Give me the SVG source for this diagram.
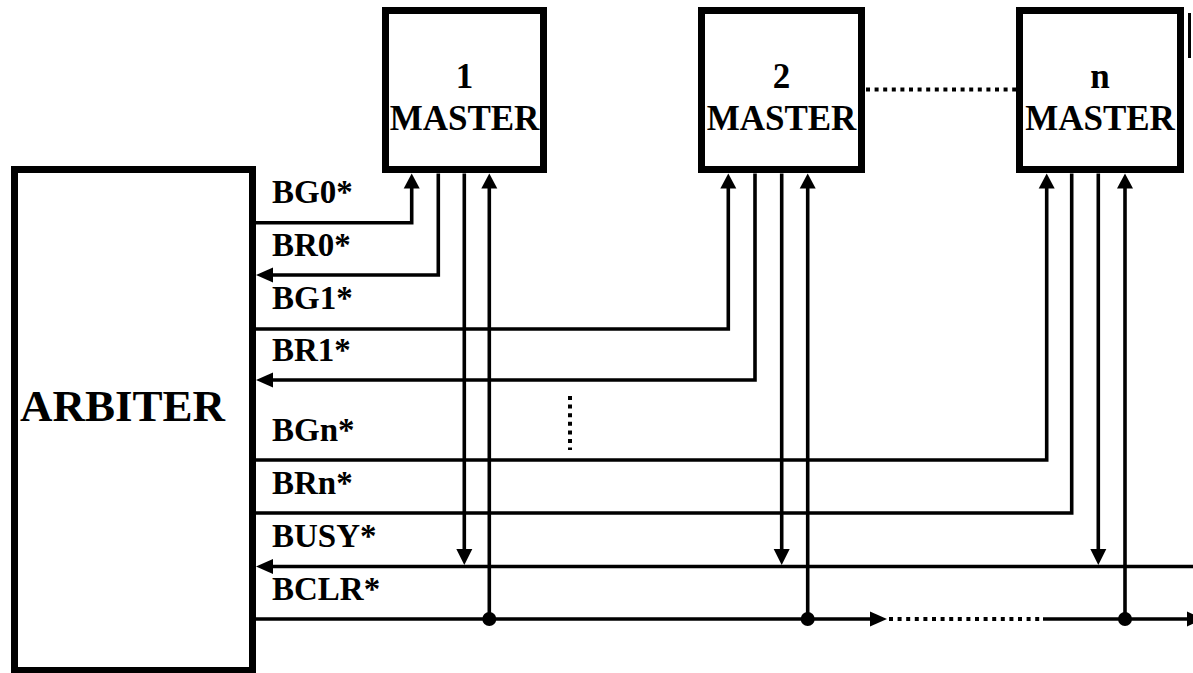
<svg xmlns="http://www.w3.org/2000/svg" width="1193" height="673" viewBox="0 0 1193 673">
<style>
.box{fill:#fff;stroke:#000;stroke-width:7}
.ln{fill:none;stroke:#000;stroke-width:3.6}
.dot{fill:none;stroke:#000;stroke-width:4;stroke-dasharray:4 4.6}
.t{font-family:"Liberation Serif","Times New Roman",serif;font-weight:bold;fill:#000}
.m{font-size:35px;text-anchor:middle}
.lab{font-size:33px}
</style>
<defs>
<polygon id="aUp" points="0,0 -8,15 8,15" fill="#000"/>
<polygon id="aDown" points="0,0 -8,-16 8,-16" fill="#000"/>
<polygon id="aLeft" points="0,0 17,-7.5 17,7.5" fill="#000"/>
<polygon id="aRight" points="0,0 -17,-7.5 -17,7.5" fill="#000"/>
</defs>
<rect width="1193" height="673" fill="#fff"/>
<g id="arbiter">
<rect class="box" x="14.5" y="169.5" width="238" height="501"/>
<text class="t" x="20" y="421" font-size="45">ARBITER</text>
</g>
<g id="master1">
<rect class="box" x="385.5" y="10.5" width="158" height="159"/>
<text class="t m" x="464.5" y="88">1</text>
<text class="t m" x="464.5" y="130">MASTER</text>
</g>
<g id="master2">
<rect class="box" x="701.5" y="10.5" width="160" height="159"/>
<text class="t m" x="781.5" y="88">2</text>
<text class="t m" x="781.5" y="130">MASTER</text>
</g>
<g id="mastern">
<rect class="box" x="1019.5" y="10.5" width="161" height="159"/>
<text class="t m" x="1100" y="88">n</text>
<text class="t m" x="1100" y="130">MASTER</text>
</g>
<g id="labels">
<text class="t lab" x="272" y="203">BG0*</text>
<text class="t lab" x="272" y="256">BR0*</text>
<text class="t lab" x="272" y="309">BG1*</text>
<text class="t lab" x="272" y="361">BR1*</text>
<text class="t lab" x="272" y="441">BGn*</text>
<text class="t lab" x="272" y="494">BRn*</text>
<text class="t lab" x="272" y="547">BUSY*</text>
<text class="t lab" x="272" y="600">BCLR*</text>
</g>
<g id="connectors">
<line x1="1189.5" y1="13" x2="1189.5" y2="58" stroke="#000" stroke-width="3"/>
<line class="dot" x1="866" y1="89.5" x2="1016" y2="89.5"/>
<line class="dot" x1="570" y1="396" x2="570" y2="450"/>
<path class="ln" d="M256 222.7H411.7V180"/>
<use href="#aUp" x="411.7" y="173.5"/>
<path class="ln" d="M438.3 173.5V275H262"/>
<use href="#aLeft" x="256" y="275"/>
<path class="ln" d="M464.3 173.5V555"/>
<use href="#aDown" x="464.3" y="565"/>
<path class="ln" d="M489.3 619V180"/>
<use href="#aUp" x="489.3" y="173.5"/>
<path class="ln" d="M256 329H728.3V180"/>
<use href="#aUp" x="728.3" y="173.5"/>
<path class="ln" d="M755 173.5V380H262"/>
<use href="#aLeft" x="256" y="380"/>
<path class="ln" d="M781.7 173.5V555"/>
<use href="#aDown" x="781.7" y="565"/>
<path class="ln" d="M807.7 619V180"/>
<use href="#aUp" x="807.7" y="173.5"/>
<path class="ln" d="M256 460H1046.7V180"/>
<use href="#aUp" x="1046.7" y="173.5"/>
<path class="ln" d="M1071.7 173.5V513H256"/>
<path class="ln" d="M1098.3 173.5V555"/>
<use href="#aDown" x="1098.3" y="565"/>
<path class="ln" d="M1125 619V180"/>
<use href="#aUp" x="1125" y="173.5"/>
<path class="ln" d="M1193 566.5H262"/>
<use href="#aLeft" x="256" y="566.5"/>
<path class="ln" d="M256 619H876"/>
<use href="#aRight" x="887" y="619"/>
<line class="dot" x1="889" y1="619" x2="1043" y2="619"/>
<path class="ln" d="M1043 619H1195"/>
<use href="#aRight" x="1204" y="619"/>
<circle cx="489.3" cy="619" r="7"/>
<circle cx="807.7" cy="619" r="7"/>
<circle cx="1125" cy="619" r="7"/>
</g>
</svg>
